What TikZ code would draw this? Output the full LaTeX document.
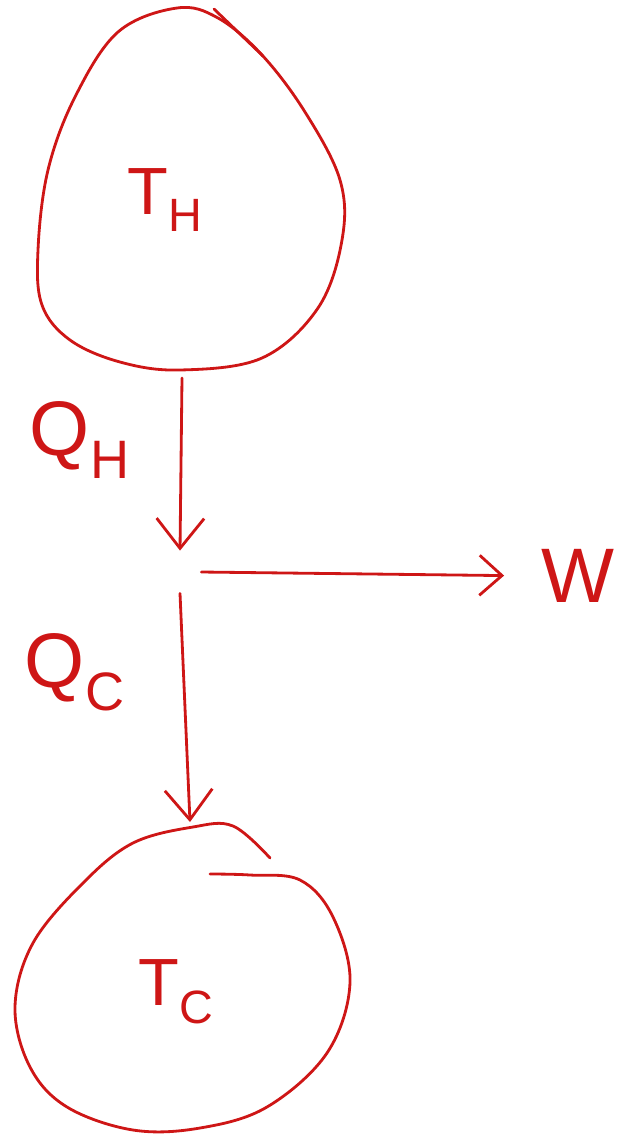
\documentclass[tikz,border=0pt]{standalone}
\usepackage{fontspec}
\setmainfont{Liberation Sans}
\usetikzlibrary{arrows.meta}
\definecolor{ink}{RGB}{206,22,22}

\begin{document}
\begin{tikzpicture}[
  x=0.02cm, y=-0.02cm,
  line width=1.6pt, line cap=round, line join=round,
  every node/.style={text=ink, inner sep=0pt},
  blob/.style={draw=ink},
  flow/.style={draw=ink, -{Straight Barb[length=0.6cm, width=0.95cm]}},
  big/.style={font=\fontsize{44}{50}\selectfont},
  temp/.style={font=\fontsize{38}{44}\selectfont}
]
\useasboundingbox (0,0) rectangle (618,1134);
% reservoirs
\draw[blob] plot[smooth cycle, tension=0.6] coordinates {(177,8) (118,32) (75,97) (48,170)
  (38,250) (42,305) (70,340) (120,362) (180,370) (262,358) (318,308) (342,240)
  (340,180) (305,112) (262,55) (218,18)};
\draw[draw=ink] (214,9) -- (263,56);
\draw[blob] plot[smooth, tension=0.6] coordinates {(270,858) (233,826) (193,827) (133,843) (83,883)
  (33,943) (15,1007) (30,1067) (67,1107) (133,1130) (200,1128) (267,1107) (327,1053)
  (350,983) (333,917) (300,880) (250,875) (210,874)};
\node[temp] (hot) at (165,200) {T\textsubscript{H}};
\node[temp] (cold) at (176,992) {T\textsubscript{C}};
% engine and flows
\coordinate (hotout) at (182,378);
\coordinate (coldin) at (190,822);
\node[circle, minimum size=0.8cm] (engine) at (180,572) {};
\node[big] (work) at (578,576) {W};
\node[big] (qh) at (80,440) {Q\textsubscript{H}};
\node[big] (qc) at (75,672) {Q\textsubscript{C}};
\draw[flow] (hotout) -- (engine.north);
\draw[flow] (engine.south) -- (coldin);
\draw[draw=ink, -{Straight Barb[length=0.45cm, width=0.8cm]}, shorten >=0.72cm]
  (engine.east) -- (work.west);
\end{tikzpicture}
\end{document}
